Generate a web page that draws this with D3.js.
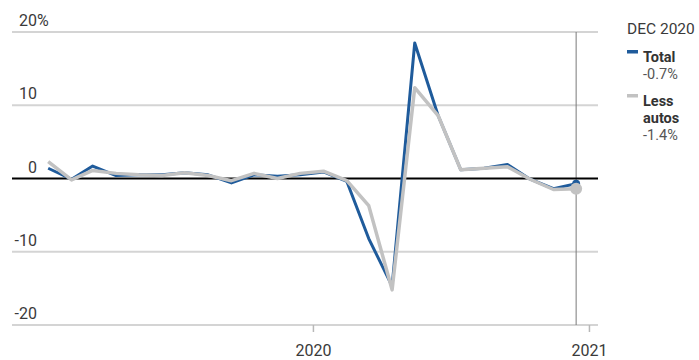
<!DOCTYPE html>
<html>
<head>
<meta charset="utf-8">
<script src="https://cdn.jsdelivr.net/npm/d3@7"></script>
<style>
  html, body { margin: 0; padding: 0; background: #fff; }
  svg { display: block; font-family: Roboto, "Noto Sans", sans-serif; }
</style>
</head>
<body>
<svg id="chart" width="699" height="360"></svg>
<script>
// Monthly retail sales, % change from previous month
const months = ["2019-01","2019-02","2019-03","2019-04","2019-05","2019-06",
                "2019-07","2019-08","2019-09","2019-10","2019-11","2019-12",
                "2020-01","2020-02","2020-03","2020-04","2020-05","2020-06",
                "2020-07","2020-08","2020-09","2020-10","2020-11","2020-12"];
const total     = [1.4, -0.1, 1.7, 0.4, 0.5, 0.5, 0.8, 0.5, -0.6, 0.5, 0.3, 0.5,
                   0.9, -0.4, -8.2, -14.7, 18.5, 8.6, 1.2, 1.4, 1.9, -0.1, -1.4, -0.7];
const lessAutos = [2.3, -0.2, 1.1, 0.7, 0.5, 0.4, 0.8, 0.4, -0.3, 0.7, 0.0, 0.7,
                   1.0, -0.3, -3.7, -15.2, 12.4, 8.6, 1.2, 1.4, 1.6, -0.1, -1.5, -1.4];
const yTicks = [20, 10, 0, -10, -20];
const xTicks = ["2020-01-01", "2021-01-01"];
const legendTitle = "DEC 2020";

const parseMonth = d3.timeParse("%Y-%m");
const dates = months.map(m => d3.timeDay.offset(parseMonth(m), 14));

const svg = d3.select("#chart");

const x = d3.scaleTime()
  .domain([new Date(2018, 10, 28), new Date(2021, 0, 13)])
  .range([12, 598]);
const y = d3.scaleLinear().domain([-20, 20]).range([325, 32]);

const blue = "#1f5b9b";
const grey = "#c2c2c2";
const textColor = "#3a3a3a";

// horizontal gridlines
svg.append("g").selectAll("line")
  .data(yTicks.filter(t => t !== 0))
  .join("line")
  .attr("x1", x.range()[0]).attr("x2", x.range()[1])
  .attr("y1", d => y(d)).attr("y2", d => y(d))
  .attr("stroke", "#d4d4d4").attr("stroke-width", 2);

// y tick labels, right-aligned with the % sign hanging
const yl = svg.append("g").attr("fill", textColor).style("font-size", "16px");
yl.selectAll("text")
  .data(yTicks)
  .join("text")
  .attr("x", 37)
  .attr("y", d => y(d) - 6)
  .attr("text-anchor", "end")
  .text(d => d);
yl.append("text")
  .attr("x", 37).attr("y", y(20) - 6)
  .text("%");

// x axis ticks
const xAxis = d3.axisBottom(x)
  .tickValues(xTicks.map(d => new Date(d + "T00:00:00")))
  .tickFormat(d3.timeFormat("%Y"))
  .tickSize(7)
  .tickPadding(13);
const gx = svg.append("g")
  .attr("transform", `translate(0,${y(-20)})`)
  .call(xAxis);
gx.select(".domain").remove();
gx.selectAll(".tick line").attr("stroke", "#b8b8b8").attr("stroke-width", 1.5);
gx.selectAll(".tick text")
  .attr("fill", textColor)
  .style("font-size", "16px")
  .style("font-family", "Roboto, sans-serif");

// vertical marker at the latest month
const lastDate = dates[dates.length - 1];
svg.append("line")
  .attr("x1", x(lastDate)).attr("x2", x(lastDate))
  .attr("y1", y(20)).attr("y2", y(-20))
  .attr("stroke", "#7a7a7a").attr("stroke-width", 1);

// zero line
svg.append("line")
  .attr("x1", x.range()[0]).attr("x2", x.range()[1])
  .attr("y1", y(0)).attr("y2", y(0))
  .attr("stroke", "#000").attr("stroke-width", 2);

const line = d3.line()
  .x((d, i) => x(dates[i]))
  .y(d => y(d));

svg.append("path")
  .datum(total)
  .attr("d", line)
  .attr("fill", "none")
  .attr("stroke", blue)
  .attr("stroke-width", 3)
  .attr("stroke-linejoin", "round");

svg.append("path")
  .datum(lessAutos)
  .attr("d", line)
  .attr("fill", "none")
  .attr("stroke", grey)
  .attr("stroke-width", 3.5)
  .attr("stroke-linejoin", "round");

// end points
svg.append("circle")
  .attr("cx", x(lastDate)).attr("cy", y(total[total.length - 1]))
  .attr("r", 4).attr("fill", blue);
svg.append("circle")
  .attr("cx", x(lastDate)).attr("cy", y(lessAutos[lessAutos.length - 1]))
  .attr("r", 6).attr("fill", grey);

// legend
const fmt = v => `${v.toFixed(1)}%`;
const lg = svg.append("g").attr("fill", textColor).style("font-size", "14.5px");
lg.append("text").attr("x", 627).attr("y", 34).style("font-size", "15.5px").text(legendTitle);

const lineGap = 17;
const entries = [
  { lines: ["Total"], value: total[total.length - 1], color: blue, top: 62 },
  { lines: ["Less", "autos"], value: lessAutos[lessAutos.length - 1], color: grey, top: 106 }
];
entries.forEach(e => {
  lg.append("rect")
    .attr("x", 627).attr("y", e.top - 12)
    .attr("width", 11).attr("height", 3.5)
    .attr("fill", e.color);
  e.lines.forEach((t, i) => {
    lg.append("text")
      .attr("x", 643).attr("y", e.top + i * lineGap)
      .style("font-weight", 700)
      .attr("fill", "#333")
      .text(t);
  });
  lg.append("text")
    .attr("x", 643).attr("y", e.top + e.lines.length * lineGap)
    .attr("fill", "#555")
    .text(fmt(e.value));
});
</script>
</body>
</html>
